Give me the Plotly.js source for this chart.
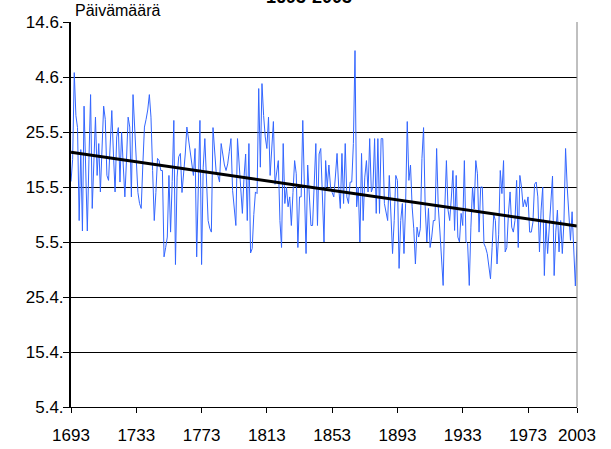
<!DOCTYPE html>
<html>
<head>
<meta charset="utf-8">
<script src="https://cdn.plot.ly/plotly-3.0.1.min.js"></script>
<style>html,body{margin:0;padding:0;background:#fff;}#chart{width:611px;height:449px;}</style>
</head>
<body>
<div id="chart"></div>
<script>
// Ice break-up date, expressed as day of year (5.4. = 95 ... 14.6. = 165)
const firstYear = 1693;
const breakupDay = [
  136, 140, 155.8, 148, 145.8, 128.9, 141.8, 127, 149.7, 136,
  127, 140, 151.8, 131.1, 139, 147.7, 137.1, 142.9, 134.1, 142,
  149.7, 147.3, 137.1, 136.2, 143, 148.9, 141, 134.1, 144.1, 145.8,
  135.9, 145, 139, 133.2, 140, 147.7, 145.9, 133.2, 151.8, 145,
  139, 134, 132, 131.1, 139, 145.9, 147.3, 149, 151.8, 147.7,
  138, 128.9, 134, 140.2, 139.8, 138, 138, 122.3, 124, 125.9,
  137.1, 126.8, 136, 147.1, 120.9, 136.8, 140.5, 141.1, 134, 137.4,
  141, 145.9, 143.5, 141.7, 138.5, 137.1, 142, 122.3, 135, 147.1,
  120.9, 138.6, 143.8, 135, 128.9, 127.5, 126.8, 145.8, 141, 137.4,
  137.1, 135.9, 142.9, 141, 139, 138, 139.2, 141.5, 143.8, 134.4,
  131, 128, 143.8, 139, 135, 130.2, 136.8, 141, 128.9, 142.9,
  123, 123.8, 130, 134.1, 133.8, 152.9, 138.6, 153.8, 148, 144.1,
  142, 147.7, 137.1, 142, 146.9, 135.5, 137.4, 139.8, 128.9, 124,
  142.9, 132, 135, 131.4, 133.2, 128, 134, 139.8, 137.4, 124,
  133.2, 133.2, 147.1, 132, 122.9, 139, 133.8, 128, 128, 135,
  142.9, 128, 141, 142, 135, 125, 139.8, 135, 139, 135,
  134, 133.2, 137, 141.1, 135, 131.1, 141.1, 132, 142.9, 133.2,
  132, 135.9, 135.9, 142.9, 159.8, 131.4, 135, 125, 141.1, 128.9,
  136.8, 139.8, 134.1, 143.8, 134.1, 135, 143.8, 130.2, 143.8, 130.2,
  143.8, 143.8, 132, 130, 128.9, 137.1, 128.9, 122.9, 128.9, 137.1,
  136.2, 120.2, 128.9, 132, 122.9, 132, 146.9, 136.2, 139, 131.4,
  127.4, 121, 127.7, 125.9, 127.4, 140.2, 145.8, 131.4, 125, 131.1,
  124, 125.9, 128.9, 128.9, 142, 131.4, 127, 122.3, 117.1, 131.1,
  139.8, 130.8, 128.9, 133, 138, 127.1, 137.1, 125.9, 125, 130.2,
  128, 139.8, 125, 124.7, 117.1, 127.7, 135, 131, 139.8, 137.4,
  126.8, 135, 135, 124.7, 124, 122.9, 121, 118.3, 124, 130,
  128.9, 121, 126.3, 138, 133.8, 139.8, 123.2, 124, 130.2, 134.1,
  127.7, 126.8, 128.9, 136.2, 124, 137.1, 135, 131.4, 132.7, 131.4,
  133.2, 126.8, 126.8, 128.6, 135.5, 135.9, 133.2, 123.2, 130.8, 135,
  118.9, 128.6, 122.9, 127.7, 132.5, 137, 118.9, 126.8, 130.8, 123.2,
  128.9, 122.9, 128.6, 142, 135, 130.2, 125.3, 130.5, 124.4, 117,
  125
];
const years = breakupDay.map((_, i) => firstYear + i);

// Linear trend
const trendYears = [1693, 2003];
const trendDays = [141.3, 127.9];

// Axis ticks
const xTickVals = [1693, 1733, 1773, 1813, 1853, 1893, 1933, 1973, 2003];
const yTickVals = [95, 105, 115, 125, 135, 145, 155, 165];
const yTickText = ['5.4.', '15.4.', '25.4.', '5.5.', '15.5.', '25.5.', '4.6.', '14.6.'];

const FONT = 'Liberation Sans, Arial, sans-serif';

const traces = [
  {
    x: years, y: breakupDay, type: 'scatter', mode: 'lines',
    line: {color: '#3366FF', width: 1}, hoverinfo: 'skip'
  },
  {
    x: trendYears, y: trendDays, type: 'scatter', mode: 'lines',
    line: {color: '#000000', width: 3}, hoverinfo: 'skip'
  }
];

const layout = {
  width: 611, height: 449,
  margin: {l: 71, r: 34, t: 22, b: 42, pad: 0},
  paper_bgcolor: '#ffffff', plot_bgcolor: '#ffffff',
  showlegend: false,
  font: {family: FONT, color: '#000'},
  xaxis: {
    range: [1693, 2003],
    tickmode: 'array', tickvals: xTickVals,
    ticks: 'outside', ticklen: 5, tickwidth: 1, tickcolor: '#000',
    ticklabelstandoff: 8,
    showline: true, linecolor: '#000', linewidth: 1,
    showgrid: false, zeroline: false,
    tickfont: {family: FONT, size: 17, color: '#000'}
  },
  yaxis: {
    range: [95, 165],
    tickmode: 'array', tickvals: yTickVals, ticktext: yTickText,
    ticks: 'outside', ticklen: 6, tickwidth: 1, tickcolor: '#000',
    ticklabelstandoff: -4,
    showline: true, linecolor: '#000', linewidth: 2,
    showgrid: true, gridcolor: '#000', gridwidth: 1,
    zeroline: false,
    tickfont: {family: FONT, size: 17, color: '#000'}
  },
  annotations: [
    {
      text: 'Päivämäärä', xref: 'paper', yref: 'paper', x: 0, y: 1,
      xanchor: 'left', yanchor: 'bottom', xshift: 2, yshift: 1,
      showarrow: false, font: {family: FONT, size: 16, color: '#000'}
    },
    {
      // chart title, partly cut off at the top edge as in the original
      text: '<b>1693-2003</b>', xref: 'paper', yref: 'paper',
      x: (309 - 71) / 506, y: 1, xanchor: 'center', yanchor: 'bottom',
      yshift: 13, showarrow: false,
      font: {family: FONT, size: 18, color: '#000'}
    }
  ],
  shapes: [{
    type: 'line', xref: 'paper', yref: 'paper', x0: 1, x1: 1, y0: 0, y1: 1,
    line: {color: '#808080', width: 1}
  }]
};

Plotly.newPlot('chart', traces, layout, {staticPlot: true, displayModeBar: false});
</script>
</body>
</html>
